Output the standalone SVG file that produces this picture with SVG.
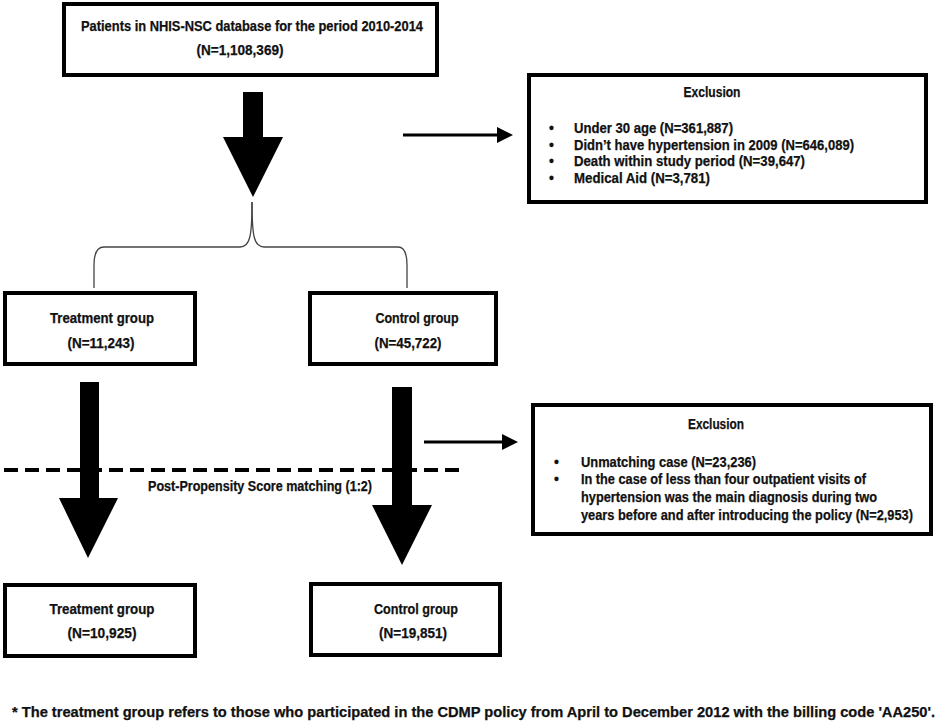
<svg xmlns="http://www.w3.org/2000/svg" width="941" height="724" viewBox="0 0 941 724">
<style>
.box{fill:#fff;stroke:#000;stroke-width:4}
.t{font-family:"Liberation Sans",Arial,sans-serif;font-weight:bold;font-size:14px;fill:#111;stroke:#111;stroke-width:0.25}
.c{text-anchor:middle}
.big{fill:#000}
.thin{stroke:#000;stroke-width:3;fill:none}
.brace{stroke:#444;stroke-width:1.3;fill:none}
.dash{stroke:#000;stroke-width:4;stroke-dasharray:14 7;fill:none}
</style>
<defs>
<marker id="ah" markerUnits="userSpaceOnUse" markerWidth="16" markerHeight="16" refX="1" refY="8" orient="auto" viewBox="0 0 16 16">
<polygon points="0,0 16,8 0,16" fill="#000"/>
</marker>
</defs>
<rect width="941" height="724" fill="#fff"/>

<g id="connectors">
<polygon class="big" points="243,92 263,92 263,137 283,137 253,197 223,137 243,137"/>
<path class="brace" d="M252,202 C252,236 250,247 240,247 L104,247 C97,247 94,254 94,265 L94,288"/>
<path class="brace" d="M252,202 C252,236 254,247 264,247 L398,247 C405,247 407,254 407,265 L407,288"/>
<line class="thin" x1="403" y1="135" x2="498" y2="135" marker-end="url(#ah)"/>
<polygon class="big" points="80,382 99,382 99,498 118,498 88,558 59,498 80,498"/>
<polygon class="big" points="392,387 412,387 412,505 432,505 402,565 372,505 392,505"/>
<line class="thin" x1="424" y1="442" x2="503" y2="442" marker-end="url(#ah)"/>
<line class="dash" x1="4" y1="470" x2="466" y2="470"/>
</g>

<g id="post-psm">
<text class="t c" x="260" y="491" font-size="12.5" textLength="224" lengthAdjust="spacingAndGlyphs">Post-Propensity Score matching (1:2)</text>
</g>

<g id="n-all">
<rect class="box" x="64" y="4" width="373" height="71"/>
<text class="t c" x="252" y="31" textLength="342" lengthAdjust="spacingAndGlyphs">Patients in NHIS-NSC database for the period 2010-2014</text>
<text class="t c" x="240" y="55" textLength="87" lengthAdjust="spacingAndGlyphs">(N=1,108,369)</text>
</g>

<g id="excl-1">
<rect class="box" x="529" y="75" width="397" height="127"/>
<text class="t c" x="712" y="97" textLength="57" lengthAdjust="spacingAndGlyphs">Exclusion</text>
<text class="t" x="549" y="133">•</text>
<text class="t" x="574" y="133" textLength="159" lengthAdjust="spacingAndGlyphs">Under 30 age (N=361,887)</text>
<text class="t" x="549" y="149.5">•</text>
<text class="t" x="574" y="149.5" textLength="280" lengthAdjust="spacingAndGlyphs">Didn’t have hypertension in 2009 (N=646,089)</text>
<text class="t" x="549" y="166">•</text>
<text class="t" x="574" y="166" textLength="231" lengthAdjust="spacingAndGlyphs">Death within study period (N=39,647)</text>
<text class="t" x="549" y="182.5">•</text>
<text class="t" x="574" y="182.5" textLength="136" lengthAdjust="spacingAndGlyphs">Medical Aid (N=3,781)</text>
</g>

<g id="treat-1">
<rect class="box" x="5" y="293" width="190" height="71"/>
<text class="t c" x="102" y="323" textLength="104" lengthAdjust="spacingAndGlyphs">Treatment group</text>
<text class="t c" x="101" y="348" textLength="67" lengthAdjust="spacingAndGlyphs">(N=11,243)</text>
</g>

<g id="ctrl-1">
<rect class="box" x="310" y="293" width="186" height="71"/>
<text class="t c" x="417" y="323" textLength="83" lengthAdjust="spacingAndGlyphs">Control group</text>
<text class="t c" x="408" y="348" textLength="67" lengthAdjust="spacingAndGlyphs">(N=45,722)</text>
</g>

<g id="excl-2">
<rect class="box" x="533" y="405" width="398" height="129"/>
<text class="t c" x="716" y="429" textLength="56" lengthAdjust="spacingAndGlyphs">Exclusion</text>
<text class="t" x="554" y="467">•</text>
<text class="t" x="581" y="467" textLength="175" lengthAdjust="spacingAndGlyphs">Unmatching case (N=23,236)</text>
<text class="t" x="554" y="484">•</text>
<text class="t" x="581" y="484" textLength="285" lengthAdjust="spacingAndGlyphs">In the case of less than four outpatient visits of</text>
<text class="t" x="581" y="502" textLength="296" lengthAdjust="spacingAndGlyphs">hypertension was the main diagnosis during two</text>
<text class="t" x="581" y="520" textLength="332" lengthAdjust="spacingAndGlyphs">years before and after introducing the policy (N=2,953)</text>
</g>

<g id="treat-2">
<rect class="box" x="5" y="585" width="190" height="71"/>
<text class="t c" x="102" y="614" textLength="105" lengthAdjust="spacingAndGlyphs">Treatment group</text>
<text class="t c" x="102" y="638" textLength="69" lengthAdjust="spacingAndGlyphs">(N=10,925)</text>
</g>

<g id="ctrl-2">
<rect class="box" x="311" y="584" width="189" height="71"/>
<text class="t c" x="416" y="614" textLength="84" lengthAdjust="spacingAndGlyphs">Control group</text>
<text class="t c" x="413" y="638" textLength="68" lengthAdjust="spacingAndGlyphs">(N=19,851)</text>
</g>

<g id="footnote">
<text class="t" x="12" y="717" font-size="17" textLength="923" lengthAdjust="spacingAndGlyphs">* The treatment group refers to those who participated in the CDMP policy from April to December 2012 with the billing code 'AA250'.</text>
</g>
</svg>
